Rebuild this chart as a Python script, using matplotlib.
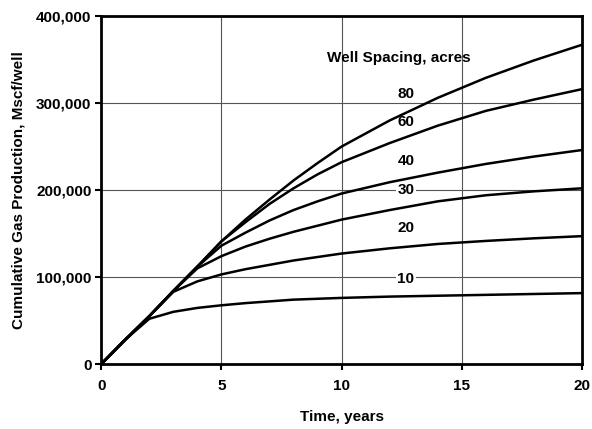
"""
Cumulative gas production per well vs. time, for several well spacings.
Values read off the reference chart; saved as out.png.
"""
import matplotlib.pyplot as plt

# ─────────────────────────────────────────────
# DATA
# ─────────────────────────────────────────────

time_years = [0, 1, 2, 3, 4, 5, 6, 7, 8, 9, 10, 12, 14, 16, 18, 20]

# cumulative gas, Mscf/well
gas_10 = [0, 28000, 52000, 60000, 64500, 67500, 70000, 72000, 74000, 75000,
          76000, 77500, 78500, 79500, 80500, 81500]
gas_20 = [0, 28000, 55000, 83000, 95000, 103000, 109000, 114000, 119000, 123000,
          127000, 133000, 138000, 141500, 144500, 147000]
gas_30 = [0, 28000, 55000, 84000, 110000, 124000, 135000, 144000, 152000, 159000,
          166000, 177000, 187000, 194000, 198500, 202000]
gas_40 = [0, 28000, 55000, 84000, 112000, 136000, 151000, 165000, 177000, 187000,
          196000, 209000, 220000, 230000, 238500, 246000]
gas_60 = [0, 28000, 55000, 84000, 112000, 141000, 163000, 184000, 202000, 218000,
          232000, 254000, 274000, 291000, 304000, 316000]
gas_80 = [0, 28000, 55000, 84000, 112000, 141000, 166000, 189000, 211000, 231000,
          250000, 280000, 306000, 329000, 349000, 367000]

series = [gas_10, gas_20, gas_30, gas_40, gas_60, gas_80]
spacing_labels = ["10", "20", "30", "40", "60", "80"]
label_y = [98000, 156000, 199500, 233000, 278000, 310500]

x_ticks = [0, 5, 10, 15, 20]
y_ticks = [0, 100000, 200000, 300000, 400000]
y_tick_labels = ["0", "100,000", "200,000", "300,000", "400,000"]

# ─────────────────────────────────────────────
# PLOT
# ─────────────────────────────────────────────

plt.rcParams["font.family"] = ["Liberation Sans", "DejaVu Sans"]
plt.rcParams["font.weight"] = "bold"

fig = plt.figure(figsize=(5.92, 4.29), dpi=100)
ax = fig.add_axes([0.171, 0.1515, 0.812, 0.811])

for values in series:
    ax.plot(time_years, values, color="black", lw=1.8, solid_capstyle="round", zorder=3)

# curve labels sit on white patches that break the grid lines (not the curves)
for text, y in zip(spacing_labels, label_y):
    ax.text(12.67, y, text, ha="center", va="center", fontsize=11, fontweight="bold",
            bbox=dict(facecolor="white", edgecolor="none", pad=1.0), zorder=2)

ax.text(12.4, 352000, "Well Spacing, acres", ha="center", va="center",
        fontsize=11, fontweight="bold", zorder=4)

ax.set_xlim(0, 20)
ax.set_ylim(0, 400000)
ax.set_xticks(x_ticks)
ax.set_yticks(y_ticks)
ax.set_yticklabels(y_tick_labels)
ax.tick_params(axis="both", direction="out", length=4, width=1.5, labelsize=11)
ax.tick_params(axis="x", pad=7)
ax.tick_params(axis="y", pad=3)
for lbl in ax.get_xticklabels() + ax.get_yticklabels():
    lbl.set_fontweight("bold")

ax.grid(True, color="#555555", lw=0.8, zorder=1)
ax.set_axisbelow(True)
for spine in ax.spines.values():
    spine.set_linewidth(2.0)

ax.set_xlabel("Time, years", fontsize=11, fontweight="bold", labelpad=12)
ax.set_ylabel("Cumulative Gas Production, Mscf/well", fontsize=11, fontweight="bold",
              labelpad=8)

fig.savefig("out.png", dpi=100)
